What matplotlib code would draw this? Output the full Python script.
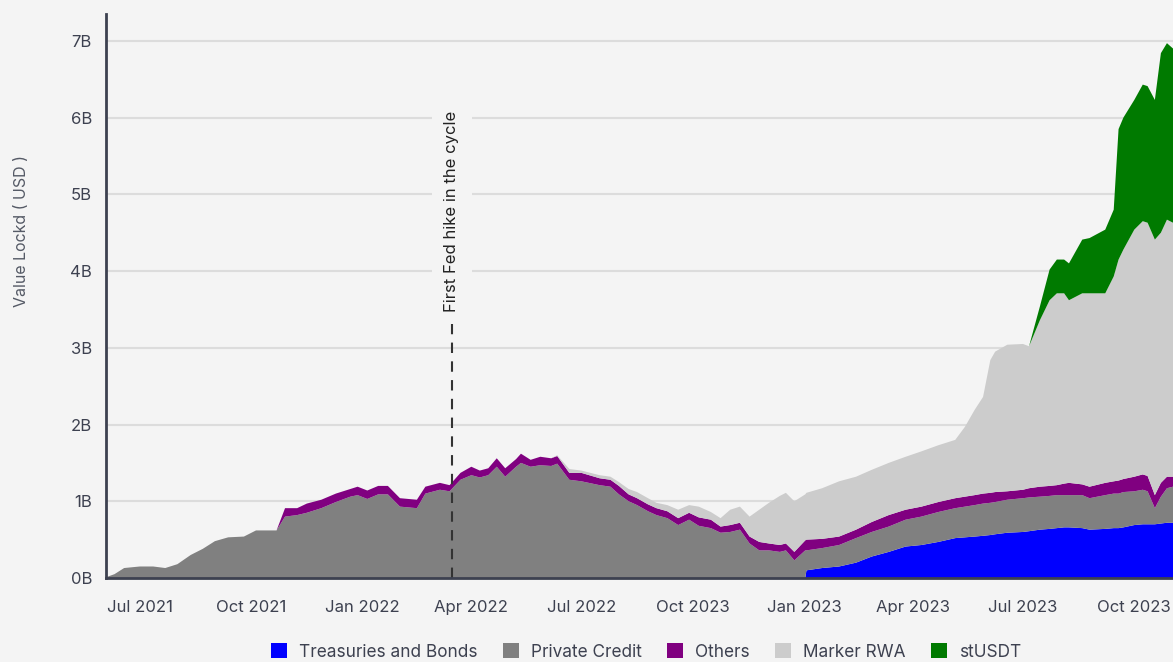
import numpy as np
import pandas as pd
import matplotlib
matplotlib.use("Agg")
import matplotlib.pyplot as plt
from matplotlib.patches import Patch

plt.rcParams['font.family'] = ['Inter', 'DejaVu Sans']

# values in billions of USD
dates = [
    "2021-06-03", "2021-06-10", "2021-06-18", "2021-07-01", "2021-07-12", "2021-07-22",
    "2021-08-01", "2021-08-12", "2021-08-22", "2021-09-01", "2021-09-12", "2021-09-25",
    "2021-10-05", "2021-10-22", "2021-10-29", "2021-11-08", "2021-11-16", "2021-11-28",
    "2021-12-10", "2021-12-22", "2021-12-28", "2022-01-05", "2022-01-14", "2022-01-22",
    "2022-02-01", "2022-02-15", "2022-02-22", "2022-03-06", "2022-03-14", "2022-03-23",
    "2022-04-01", "2022-04-08", "2022-04-15", "2022-04-22", "2022-04-29", "2022-05-08",
    "2022-05-12", "2022-05-20", "2022-05-28", "2022-06-06", "2022-06-11", "2022-06-21",
    "2022-07-01", "2022-07-16", "2022-07-25", "2022-08-01", "2022-08-09", "2022-08-16",
    "2022-08-25", "2022-09-01", "2022-09-10", "2022-09-19", "2022-09-28", "2022-10-06",
    "2022-10-16", "2022-10-24", "2022-11-01", "2022-11-09", "2022-11-17", "2022-11-25",
    "2022-12-03", "2022-12-12", "2022-12-17", "2022-12-24", "2023-01-02", "2023-01-03",
    "2023-01-16", "2023-01-30", "2023-02-13", "2023-02-26", "2023-03-12", "2023-03-26",
    "2023-04-08", "2023-04-22", "2023-05-06", "2023-05-14", "2023-05-22", "2023-05-29",
    "2023-06-04", "2023-06-08", "2023-06-18", "2023-07-01", "2023-07-06", "2023-07-15",
    "2023-07-23", "2023-07-29", "2023-08-04", "2023-08-08", "2023-08-19", "2023-08-25",
    "2023-09-07", "2023-09-14", "2023-09-18", "2023-09-22", "2023-10-01", "2023-10-08",
    "2023-10-12", "2023-10-18", "2023-10-23", "2023-10-28", "2023-11-02",
]

treasuries = [
    0, 0, 0, 0, 0, 0,
    0, 0, 0, 0, 0, 0,
    0, 0, 0, 0, 0, 0,
    0, 0, 0, 0, 0, 0,
    0, 0, 0, 0, 0, 0,
    0, 0, 0, 0, 0, 0,
    0, 0, 0, 0, 0, 0,
    0, 0, 0, 0, 0, 0,
    0, 0, 0, 0, 0, 0,
    0, 0, 0, 0, 0, 0,
    0, 0, 0, 0, 0, 0.10,
    0.13, 0.15, 0.20, 0.28, 0.34, 0.41,
    0.43, 0.47, 0.52, 0.53, 0.54, 0.55,
    0.56, 0.57, 0.59, 0.60, 0.61, 0.63,
    0.64, 0.65, 0.66, 0.66, 0.65, 0.63,
    0.64, 0.65, 0.65, 0.66, 0.69, 0.70,
    0.70, 0.70, 0.71, 0.72, 0.72,
]

private_credit = [
    0.01, 0.05, 0.13, 0.15, 0.15, 0.13,
    0.18, 0.30, 0.38, 0.48, 0.53, 0.54,
    0.62, 0.62, 0.80, 0.82, 0.85, 0.91,
    0.99, 1.06, 1.08, 1.03, 1.09, 1.09,
    0.93, 0.91, 1.10, 1.15, 1.13, 1.28,
    1.34, 1.31, 1.34, 1.45, 1.32, 1.45,
    1.50, 1.45, 1.47, 1.46, 1.49, 1.28,
    1.26, 1.21, 1.19, 1.09, 1.00, 0.95,
    0.87, 0.82, 0.78, 0.69, 0.76, 0.68,
    0.65, 0.59, 0.60, 0.63, 0.45, 0.36,
    0.36, 0.34, 0.36, 0.23, 0.36, 0.26,
    0.26, 0.28, 0.32, 0.32, 0.33, 0.35,
    0.37, 0.39, 0.39, 0.40, 0.41, 0.42,
    0.42, 0.42, 0.43, 0.44, 0.44, 0.43,
    0.43, 0.43, 0.42, 0.42, 0.43, 0.41,
    0.44, 0.45, 0.45, 0.46, 0.44, 0.45,
    0.43, 0.21, 0.35, 0.45, 0.47,
]

others = [
    0, 0, 0, 0, 0, 0,
    0, 0, 0, 0, 0, 0,
    0, 0, 0.11, 0.09, 0.12, 0.11,
    0.11, 0.10, 0.11, 0.11, 0.11, 0.11,
    0.11, 0.11, 0.09, 0.09, 0.08, 0.09,
    0.11, 0.09, 0.09, 0.11, 0.11, 0.10,
    0.12, 0.09, 0.11, 0.10, 0.10, 0.09,
    0.11, 0.09, 0.09, 0.11, 0.09, 0.09,
    0.09, 0.09, 0.09, 0.09, 0.09, 0.11,
    0.11, 0.08, 0.09, 0.09, 0.09, 0.11,
    0.09, 0.09, 0.09, 0.11, 0.13, 0.14,
    0.12, 0.11, 0.11, 0.13, 0.15, 0.13,
    0.13, 0.13, 0.13, 0.13, 0.13, 0.13,
    0.13, 0.13, 0.11, 0.11, 0.12, 0.13,
    0.13, 0.13, 0.15, 0.16, 0.14, 0.15,
    0.16, 0.16, 0.17, 0.17, 0.19, 0.20,
    0.20, 0.17, 0.18, 0.15, 0.13,
]

marker_rwa = [
    0, 0, 0, 0, 0, 0,
    0, 0, 0, 0, 0, 0,
    0, 0, 0, 0, 0, 0,
    0, 0, 0, 0, 0, 0,
    0, 0, 0, 0, 0, 0,
    0, 0, 0, 0, 0, 0,
    0, 0, 0, 0, 0.01, 0.05,
    0.03, 0.04, 0.04, 0.05, 0.07, 0.08,
    0.08, 0.07, 0.08, 0.11, 0.10, 0.14,
    0.10, 0.11, 0.20, 0.21, 0.26, 0.42,
    0.53, 0.64, 0.66, 0.66, 0.60, 0.61,
    0.66, 0.72, 0.69, 0.68, 0.68, 0.69,
    0.72, 0.74, 0.76, 0.91, 1.11, 1.26,
    1.73, 1.83, 1.91, 1.90, 1.85, 2.17,
    2.42, 2.50, 2.48, 2.38, 2.49, 2.52,
    2.47, 2.67, 2.88, 2.99, 3.22, 3.30,
    3.30, 3.33, 3.26, 3.35, 3.31,
]

stusdt = [
    0, 0, 0, 0, 0, 0,
    0, 0, 0, 0, 0, 0,
    0, 0, 0, 0, 0, 0,
    0, 0, 0, 0, 0, 0,
    0, 0, 0, 0, 0, 0,
    0, 0, 0, 0, 0, 0,
    0, 0, 0, 0, 0, 0,
    0, 0, 0, 0, 0, 0,
    0, 0, 0, 0, 0, 0,
    0, 0, 0, 0, 0, 0,
    0, 0, 0, 0, 0, 0,
    0, 0, 0, 0, 0, 0,
    0, 0, 0, 0, 0, 0,
    0, 0, 0, 0, 0, 0.18,
    0.40, 0.44, 0.44, 0.48, 0.70, 0.72,
    0.83, 0.87, 1.70, 1.72, 1.69, 1.78,
    1.78, 1.82, 2.34, 2.30, 2.27,
]

series_labels = ["Treasuries and Bonds", "Private Credit", "Others", "Marker RWA", "stUSDT"]
series_colors = ["#0000ff", "#808080", "#800080", "#cccccc", "#007a00"]

tick_dates = ["2021-07-01", "2021-10-01", "2022-01-01", "2022-04-01", "2022-07-01",
              "2022-10-01", "2023-01-01", "2023-04-01", "2023-07-01", "2023-10-01"]
tick_labels = ["Jul 2021", "Oct 2021", "Jan 2022", "Apr 2022", "Jul 2022",
               "Oct 2023", "Jan 2023", "Apr 2023", "Jul 2023", "Oct 2023"]
y_ticks = [0, 1, 2, 3, 4, 5, 6, 7]

fed_hike_date = "2022-03-16"
fed_hike_text = "First Fed hike in the cycle"

bg = "#f4f4f4"
ink = "#3d4150"

x = pd.to_datetime(dates)

fig = plt.figure(figsize=(11.73, 6.62), dpi=100, facecolor=bg)
ax = fig.add_axes([106 / 1173, 84 / 662, 1 - 106 / 1173, (578 - 14) / 662])
ax.set_facecolor(bg)

#stacked areas
ax.stackplot(x, treasuries, private_credit, others, marker_rwa, stusdt,
             colors=series_colors, labels=series_labels, linewidth=0, zorder=2)

ax.set_xlim(pd.Timestamp("2021-06-03"), pd.Timestamp("2023-11-02"))
ax.set_ylim(0, 7.35)

ax.set_yticks(y_ticks)
ax.set_yticklabels([f"{v}B" for v in y_ticks])
ax.set_xticks(pd.to_datetime(tick_dates))
ax.set_xticklabels(tick_labels)
ax.tick_params(axis="both", length=0, labelsize=12, colors=ink)
ax.tick_params(axis="x", pad=16)
ax.tick_params(axis="y", pad=10)

ax.grid(axis="y", color="#dcdcdc", linewidth=1.5, zorder=0)
ax.set_axisbelow(True)

for side in ["top", "right"]:
    ax.spines[side].set_visible(False)
for side in ["left", "bottom"]:
    ax.spines[side].set_color(ink)
    ax.spines[side].set_linewidth(2)
    ax.spines[side].set_zorder(5)

#fed hike marker
hike = pd.Timestamp(fed_hike_date)
ax.plot([hike, hike], [0, 3.4], color="#333333", linewidth=1.5,
        linestyle=(0, (5, 4)), zorder=3)
ax.text(hike, 3.47, fed_hike_text, rotation=90, ha="center", va="bottom",
        fontsize=12, color="#222222", zorder=4,
        bbox=dict(facecolor=bg, edgecolor="none", pad=9))

fig.text(22 / 1173, 1 - 231 / 662, "Value Lockd ( USD )", rotation=90,
         ha="center", va="center", fontsize=11.5, color="#555a66")

handles = [Patch(facecolor=c, edgecolor="none") for c in series_colors]
fig.legend(handles, series_labels, loc="center", bbox_to_anchor=(646 / 1173, 1 - 652 / 662),
           ncol=5, frameon=False, fontsize=12.4, labelcolor=ink,
           handlelength=0.95, handleheight=0.95, handletextpad=0.7, columnspacing=1.45)

fig.savefig("out.png", dpi=100, facecolor=bg)
